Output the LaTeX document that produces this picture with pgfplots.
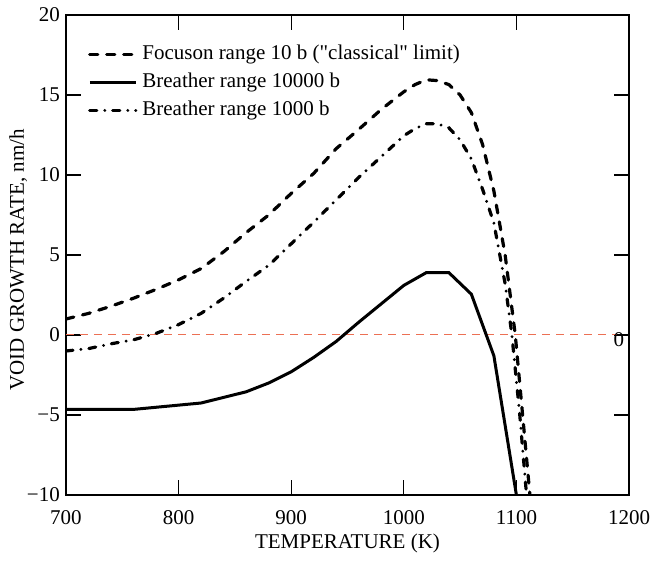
\documentclass[border=0pt]{standalone}
\usepackage{fontspec}
\setmainfont{Liberation Serif}
\usepackage{pgfplots}
\pgfplotsset{compat=1.18}
\definecolor{zeroline}{RGB}{236,112,84}
\newcommand{\bigfont}{\fontsize{21bp}{25bp}\selectfont}
\begin{document}
\bigfont
\begin{tikzpicture}
\begin{axis}[
  width=563bp, height=480bp, scale only axis,
  xmin=700, xmax=1200, ymin=-10, ymax=20,
  xtick={700,800,900,1000,1100,1200},
  xticklabels={700,800,900,1000,1100,1200},
  ytick={-10,-5,0,5,10,15,20},
  yticklabels={−10,−5,0,5,10,15,20},
  tick align=inside, tick pos=both, major tick length=15bp,
  axis line style={line width=1.8bp},
  every tick/.style={line width=1.2bp, black},
  ticklabel style={font=\bigfont},
  x tick label style={yshift=-8bp},
  y tick label style={xshift=1bp},
  label style={font=\bigfont},
  xlabel={TEMPERATURE (K)},
  ylabel={VOID GROWTH RATE, nm/h},
  x label style={at={(axis description cs:0.5,-0.1)}, anchor=center},
  y label style={at={(axis description cs:-0.085,0.49)}, anchor=center},
  legend style={at={(axis cs:719.5,18.3)}, anchor=north west, draw=none, fill=none,
    inner sep=0pt, row sep=4bp, column sep=3bp, font=\bigfont,
    nodes={inner sep=2bp, text height=15bp, text depth=5bp}},
  legend cell align=left,
  legend image code/.code={\draw[#1] (0bp,0bp) -- (46bp,0bp);},
]
\addplot[draw=zeroline, line width=1bp, dash pattern=on 8bp off 6bp, forget plot]
  coordinates {(700,0) (1189,0)};
\addplot[black, line width=3.2bp, line cap=round, dash pattern=on 8bp off 9bp] coordinates {
(700,1.0) (720,1.35) (740,1.8) (760,2.3) (780,2.85) (800,3.45) (820,4.15)
(840,5.2) (860,6.4) (880,7.5) (900,8.85) (920,10.1) (940,11.65) (960,12.85)
(980,14.1) (1000,15.2) (1010,15.65) (1020,15.95) (1030,15.9) (1040,15.65)
(1050,15.0) (1060,13.9) (1070,11.9) (1080,9.0) (1090,5.0) (1099,0)
(1105,-4.6) (1112,-10)};
\addlegendentry{Focuson range 10 b (\textquotedbl classical\textquotedbl\ limit)}
\addplot[black, line width=3bp] coordinates {
(700,-4.65) (760,-4.65) (820,-4.25) (860,-3.55) (880,-3.0) (900,-2.3)
(920,-1.4) (940,-0.4) (960,0.8) (980,1.95) (1000,3.1) (1020,3.9)
(1040,3.9) (1060,2.55) (1080,-1.3) (1100,-10)};
\addlegendentry{Breather range 10000 b}
\addplot[black, line width=3.2bp, line cap=round, dash pattern=on 7bp off 8bp on 0bp off 8bp] coordinates {
(700,-1.0) (720,-0.85) (740,-0.55) (760,-0.3) (780,0.1) (800,0.65) (820,1.35)
(840,2.3) (860,3.35) (880,4.35) (900,5.7) (920,7.05) (940,8.45) (960,9.85)
(980,11.15) (1000,12.45) (1010,12.9) (1020,13.2) (1030,13.2) (1040,12.95)
(1050,12.2) (1060,11.0) (1070,9.1) (1080,7.0) (1090,3.2) (1096,0)
(1103,-5) (1109,-10)};
\addlegendentry{Breather range 1000 b}
\node[font=\bigfont, inner sep=0pt] at (axis cs:1191,-0.3) {0};
\end{axis}
\pgfresetboundingbox
\path[use as bounding box] ([shift={(-66bp,-67bp)}]current axis.south west) rectangle ++(654bp,562bp);
\end{tikzpicture}
\end{document}
